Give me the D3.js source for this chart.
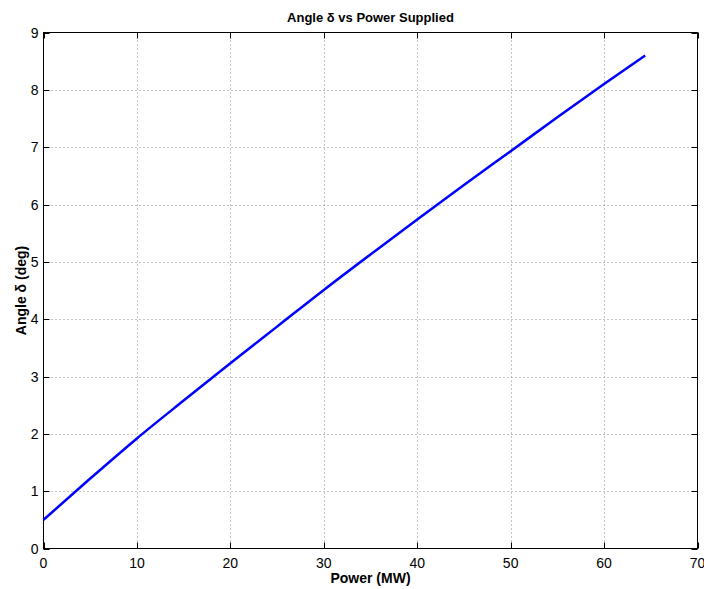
<!DOCTYPE html>
<html><head><meta charset="utf-8">
<script src="https://cdn.jsdelivr.net/npm/d3@7"></script>
<style>body{margin:0;background:#fff}svg{display:block}text{font-family:"Liberation Sans",Arial,sans-serif}</style>
</head><body>
<script>
const powerMW = [0, 5, 10, 15, 20, 25, 30, 35, 40, 45, 50, 55, 60, 64.4];
const angleDeg = [0.5, 1.22, 1.92, 2.58, 3.23, 3.87, 4.51, 5.13, 5.74, 6.34, 6.93, 7.52, 8.10, 8.6];
const xTicks = [0, 10, 20, 30, 40, 50, 60, 70];
const yTicks = [0, 1, 2, 3, 4, 5, 6, 7, 8, 9];

const W = 704, H = 589;
const L = 43.5, R = 697.5, T = 32.5, B = 548.5;
const svg = d3.select("body").append("svg").attr("width", W).attr("height", H);
const x = d3.scaleLinear().domain([0, 70]).range([L, R]);
const y = d3.scaleLinear().domain([0, 9]).range([B, T]);

// grid
const g = svg.append("g");
g.selectAll(".gx").data(xTicks.slice(1, -1)).enter().append("line")
  .attr("x1", d => Math.round(x(d)) + 0.5).attr("x2", d => Math.round(x(d)) + 0.5)
  .attr("y1", T).attr("y2", B).attr("stroke", "#888").attr("stroke-dasharray", "1,3");
g.selectAll(".gy").data(yTicks.slice(1, -1)).enter().append("line")
  .attr("y1", d => Math.round(y(d)) + 0.5).attr("y2", d => Math.round(y(d)) + 0.5)
  .attr("x1", L).attr("x2", R).attr("stroke", "#888").attr("stroke-dasharray", "1,3");

// ticks inward on all sides
const tk = 6;
xTicks.forEach(d => {
  const xx = Math.round(x(d)) + 0.5;
  svg.append("line").attr("x1", xx).attr("x2", xx).attr("y1", B).attr("y2", B - tk).attr("stroke", "#000");
  svg.append("line").attr("x1", xx).attr("x2", xx).attr("y1", T).attr("y2", T + tk).attr("stroke", "#000");
});
yTicks.forEach(d => {
  const yy = Math.round(y(d)) + 0.5;
  svg.append("line").attr("y1", yy).attr("y2", yy).attr("x1", L).attr("x2", L + tk).attr("stroke", "#000");
  svg.append("line").attr("y1", yy).attr("y2", yy).attr("x1", R).attr("x2", R - tk).attr("stroke", "#000");
});

// box
svg.append("rect").attr("x", L).attr("y", T).attr("width", R - L).attr("height", B - T)
  .attr("fill", "none").attr("stroke", "#000").attr("stroke-width", 1);

// tick labels
svg.selectAll(".xl").data(xTicks).enter().append("text")
  .attr("x", d => x(d)).attr("y", B + 19).attr("text-anchor", "middle")
  .attr("font-size", 14).text(d => d);
svg.selectAll(".yl").data(yTicks).enter().append("text")
  .attr("x", L - 5).attr("y", d => y(d) + 5).attr("text-anchor", "end")
  .attr("font-size", 14).text(d => d);

// line
const pts = powerMW.map((p, i) => [p, angleDeg[i]]);
svg.append("path").datum(pts)
  .attr("d", d3.line().x(d => x(d[0])).y(d => y(d[1])).curve(d3.curveMonotoneX))
  .attr("fill", "none").attr("stroke", "#0000ff").attr("stroke-width", 2.5);

// labels
svg.append("text").attr("x", (L + R) / 2).attr("y", 22).attr("text-anchor", "middle")
  .attr("font-size", 13).attr("font-weight", "bold").text("Angle δ vs Power Supplied");
svg.append("text").attr("x", (L + R) / 2).attr("y", 583).attr("text-anchor", "middle")
  .attr("font-size", 14).attr("font-weight", "bold").text("Power (MW)");
svg.append("text").attr("transform", `translate(26,${(T + B) / 2}) rotate(-90)`)
  .attr("text-anchor", "middle").attr("font-size", 14).attr("font-weight", "bold").text("Angle δ (deg)");
</script>
</body></html>
